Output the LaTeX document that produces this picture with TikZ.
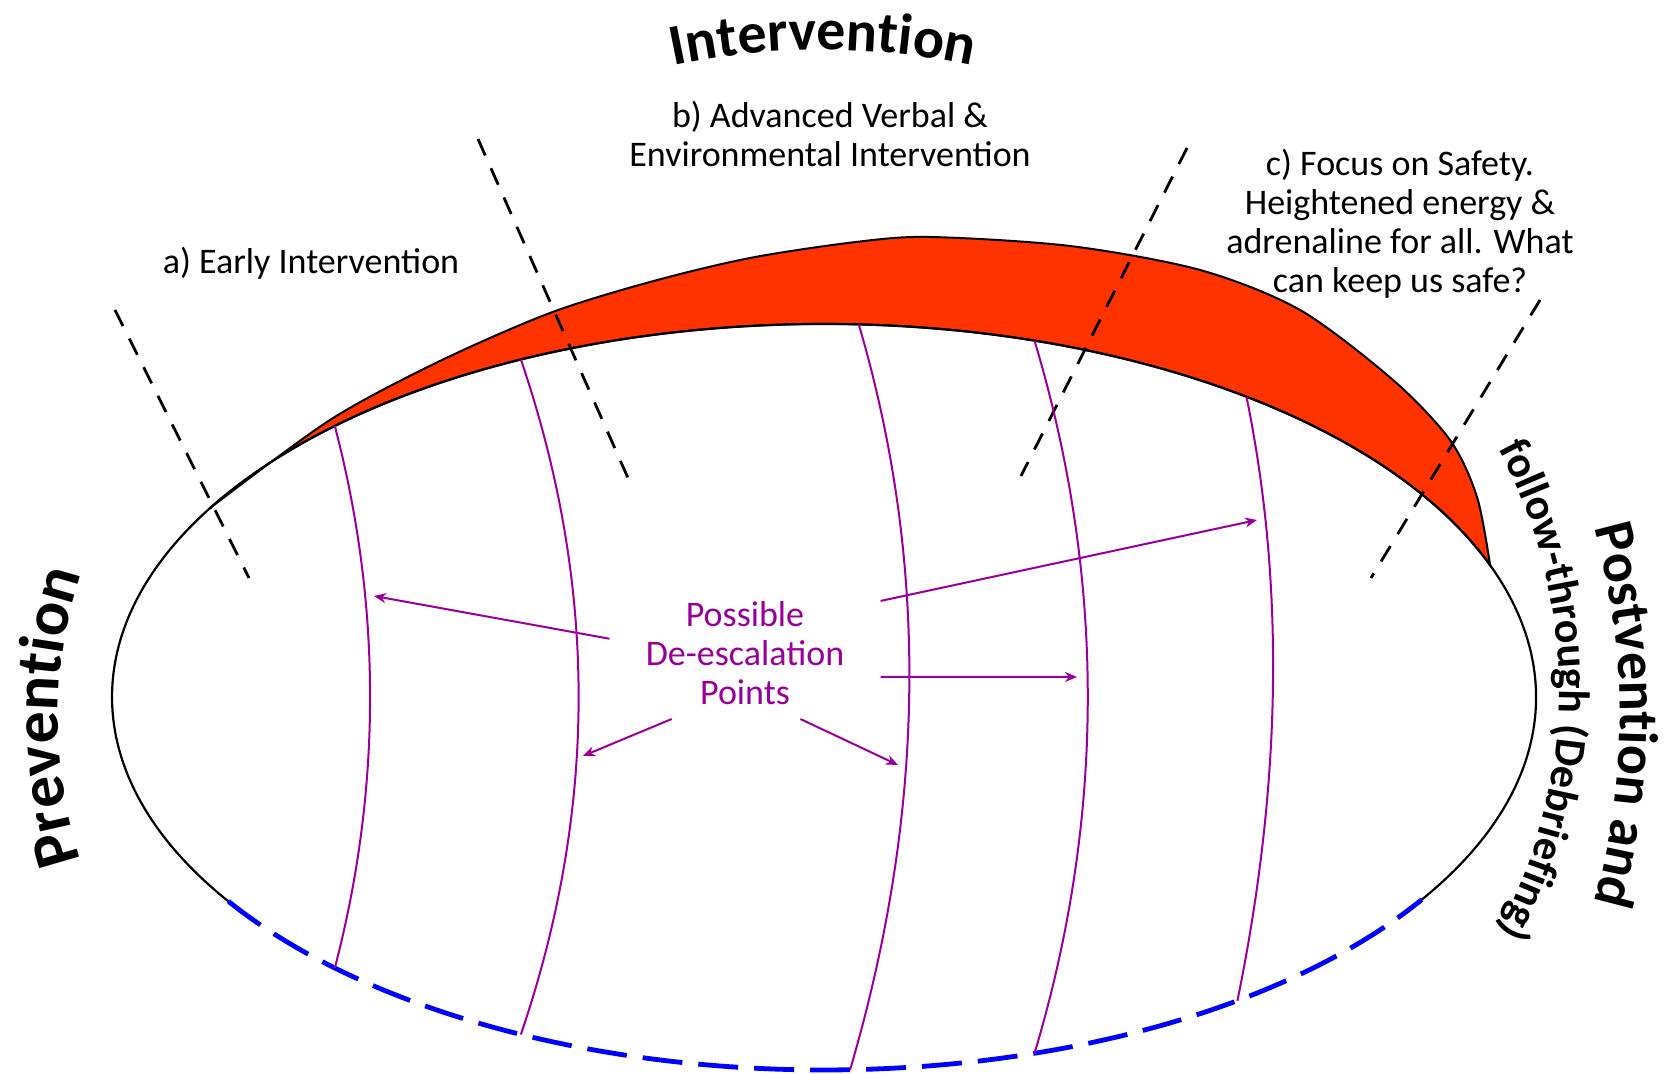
\documentclass[tikz,border=0pt]{standalone}
\usepackage{fontspec}
\setmainfont{Carlito}
\usetikzlibrary{calc,arrows.meta,decorations.text}

\definecolor{bandred}{RGB}{255,51,0}
\definecolor{plum}{RGB}{153,0,153}
\definecolor{rimblue}{RGB}{0,0,255}

\newcommand\labelfont{\fontsize{18}{19.5}\selectfont}
\newcommand\headfont{\fontsize{29}{31}\selectfont\bfseries}
\newcommand\sidefont{\fontsize{32}{34}\selectfont\bfseries}
\newcommand\postfont{\fontsize{28}{30}\selectfont\bfseries}
\newcommand\followfont{\fontsize{22}{24}\selectfont\bfseries}

\tikzset{
  rim/.style={line width=1.1pt},
  rimdash/.style={rimblue, line width=2.4pt, dash pattern=on 20pt off 8pt},
  band/.style={fill=bandred, draw=black, line width=1pt},
  divider/.style={line width=1.4pt, dash pattern=on 9pt off 7pt},
  meridian/.style={plum, line width=1pt},
  pointer/.style={plum, line width=1pt, -{Stealth[length=6pt,width=5pt]}},
  phase/.style={font=\labelfont, align=center},
  arched/.style={decorate, decoration={text along path, text align=center, text={#1}}}
}

\begin{document}
\begin{tikzpicture}[x=0.5pt,y=0.5pt]
  \useasboundingbox (0,0) rectangle (1677,1074);
  \coordinate (c) at (824,377);

  % red band riding on the top of the ellipse
  \filldraw[band] plot[smooth] coordinates {(209.9,565.8) (330,654) (440,713) (550,761) (650,792) (750,816)
      (856,832) (930,837) (1070,828) (1200,804) (1300,764) (1393,694) (1450,634) (1477,577) (1490.1,508.8)}
    arc[start angle=20.7, end angle=149.6, x radius=712, y radius=373] -- cycle;

  % ellipse, lower part dashed blue
  \draw[rim] (c) ++(-32.9:712 and 373) arc[start angle=-32.9, end angle=213.2, x radius=712, y radius=373];
  \draw[rimdash] (c) ++(213.2:712 and 373) arc[start angle=213.2, end angle=327.1, x radius=712, y radius=373];

  % stage dividers
  \draw[divider] (115,764) -- (249,496);
  \draw[divider] (478,935) -- (628,596);
  \draw[divider] (1187,926) -- (1021,598);
  \draw[divider] (1540,774) -- (1371,496);

  % de-escalation meridians
  \foreach \ua/\ub/\dx/\dy in {133.4/226.6/47/180, 115.2/244.8/77/226, 87.2/272.1/73/248, 72.8/287.2/71/237, 53.6/305.5/41/201}
    \draw[meridian] ($(c)+(\ua:712 and 373)$) .. controls +(\dx,-\dy) and +(\dx,\dy) .. ($(c)+(\ub:712 and 373)$);

  % stage labels
  \node[phase] (early) at (311,811) {a) Early Intervention};
  \node[phase] (verbal) at (830,940) {b) Advanced Verbal \&\\Environmental Intervention};
  \node[phase] (safety) at (1400,850) {c) Focus on Safety.\\Heightened energy \&\\adrenaline for all. What\\can keep us safe?};
  \node[phase, plum, inner xsep=18pt, inner ysep=7pt] (pts) at (745,421) {Possible\\De-escalation\\Points};

  \foreach \n/\p in {1/{374,478}, 2/{583,318}, 3/{898,309}, 4/{1077,397}, 5/{1257,554}}
    \coordinate (h\n) at (\p);
  \draw[pointer] (pts.174) -- (h1);
  \draw[pointer] (pts.222) -- (h2);
  \draw[pointer] (pts.310) -- (h3);
  \draw[pointer] (pts.350) -- (h4);
  \draw[pointer] (pts.21) -- (h5);

  % curved headings
  \path[arched={|\headfont|Intervention}] (823,304) ++(110:720) arc[start angle=110, end angle=70, radius=720];
  \path[arched={|\sidefont|Prevention}] (514,357) ++(205:456) arc[start angle=205, end angle=155, radius=456];
  \path[arched={|\postfont|Postvention and}] (923,359) ++(25:697) arc[start angle=25, end angle=-25, radius=697];
  \path[arched={|\followfont|follow-through (Debriefing)}] (1049,384) ++(35:510) arc[start angle=35, end angle=-35, radius=510];
\end{tikzpicture}
\end{document}
